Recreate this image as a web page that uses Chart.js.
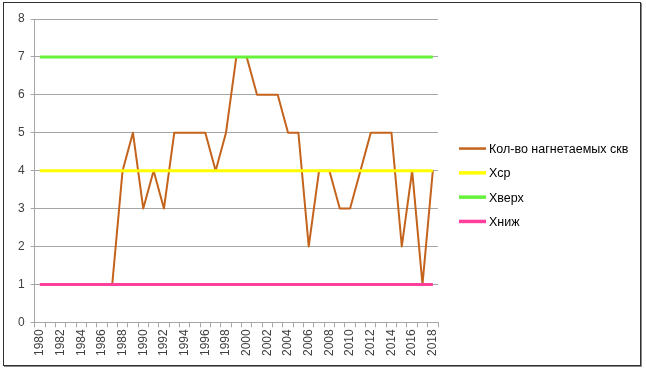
<!DOCTYPE html>
<html>
<head>
<meta charset="utf-8">
<script src="https://cdn.jsdelivr.net/npm/chart.js@4"></script>
<style>
  html, body { margin: 0; padding: 0; background: #fff; }
  #frame {
    position: absolute; left: 3px; top: 2px;
    width: 636px; height: 362px;
    border: 1px solid #303030;
    box-shadow: 1px 1px 0 #8a8a8a;
    background: #fff;
  }
</style>
</head>
<body>
<div id="frame"><canvas id="chart" width="636" height="362"></canvas></div>
<script>
// годы
var years = [];
for (var y = 1980; y <= 2018; y++) years.push(String(y));

// Кол-во нагнетаемых скв (до 1987 данных нет)
var wells = [null, null, null, null, null, null, null,
    1, 4, 5, 3, 4, 3, 5, 5, 5, 5, 4, 5, 7, 7,
    6, 6, 6, 5, 5, 2, 4, 4, 3, 3, 4, 5, 5, 5, 2, 4, 1, 4];

var xMean = 4;
var xUpper = 7;
var xLower = 1;

function flat(v) { return years.map(function () { return v; }); }

var fontFamily = "'Liberation Sans', Arial, sans-serif";
Chart.defaults.font.family = fontFamily;
Chart.defaults.font.size = 12;
Chart.defaults.color = '#404040';

// легенда справа, как в Excel
var sideLegend = {
    id: 'sideLegend',
    afterDraw: function (chart) {
        var ctx = chart.ctx;
        var sets = chart.data.datasets;
        var step = 24.3;
        var x0 = chart.chartArea.right + 21;
        var yc = chart.height / 2 + 1 - step * (sets.length - 1) / 2;
        ctx.save();
        ctx.font = "12.5px " + fontFamily;
        ctx.textBaseline = 'middle';
        ctx.fillStyle = '#000';
        sets.forEach(function (ds, i) {
            var yy = yc + i * step;
            ctx.strokeStyle = ds.borderColor;
            ctx.lineWidth = ds.borderWidth + 0.5;
            ctx.beginPath();
            ctx.moveTo(x0, yy);
            ctx.lineTo(x0 + 27, yy);
            ctx.stroke();
            ctx.fillText(ds.label, x0 + 30, yy + 1);
        });
        ctx.restore();
    }
};

new Chart(document.getElementById("chart"), {
    type: 'line',
    data: {
        labels: years,
        datasets: [{
            label: "Кол-во нагнетаемых скв",
            data: wells,
            borderColor: "#C4631C",
            borderWidth: 2,
            order: 4
        }, {
            label: "Хср",
            data: flat(xMean),
            borderColor: "#FFFF00",
            borderWidth: 3,
            order: 3
        }, {
            label: "Хверх",
            data: flat(xUpper),
            borderColor: "#66F23A",
            borderWidth: 3,
            order: 2
        }, {
            label: "Хниж",
            data: flat(xLower),
            borderColor: "#FF3F9C",
            borderWidth: 3,
            order: 1
        }]
    },
    options: {
        responsive: false,
        animation: false,
        elements: {
            point: {radius: 0, hoverRadius: 0},
            line: {tension: 0, fill: false, borderJoinStyle: 'round'}
        },
        layout: {padding: {left: 8, top: 16, right: 202, bottom: 7}},
        plugins: {
            title: {display: false},
            tooltip: {enabled: false},
            legend: {display: false}
        },
        scales: {
            x: {
                offset: true,
                grid: {
                    offset: true,
                    drawOnChartArea: false,
                    tickLength: 5,
                    color: '#a6a6a6'
                },
                border: {color: '#a6a6a6'},
                ticks: {
                    autoSkip: false,
                    maxRotation: 90,
                    minRotation: 90,
                    padding: 2,
                    callback: function (v, i) { return i % 2 === 0 ? this.getLabelForValue(v) : ''; }
                }
            },
            y: {
                min: 0,
                max: 8,
                ticks: {stepSize: 1, padding: 6},
                grid: {color: '#a6a6a6', tickLength: 4},
                border: {color: '#a6a6a6'}
            }
        }
    },
    plugins: [sideLegend]
});
</script>
</body>
</html>
